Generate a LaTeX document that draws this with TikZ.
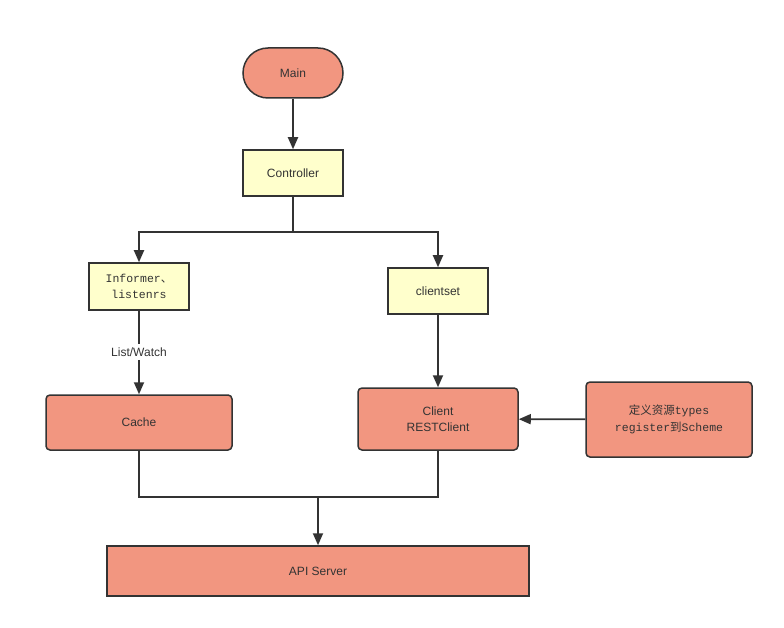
\documentclass[tikz,border=0pt]{standalone}
\usepackage{fontspec}
\usepackage{tikz}
\usepackage{xcolor}
\usetikzlibrary{arrows.meta}
\setmainfont{Liberation Sans}
\newfontfamily\cjk{Noto Sans CJK SC}
\newfontfamily\simmono{Liberation Mono}
\definecolor{salmon}{HTML}{F29680}
\definecolor{paleyellow}{HTML}{FFFFCC}
\definecolor{edgegray}{HTML}{333333}

\begin{document}
\begin{tikzpicture}[x=1pt,y=-1pt,
    font=\fontsize{12pt}{14pt}\selectfont,
    box/.style={draw=edgegray,line width=1.5pt,align=center,inner sep=0pt,text=edgegray},
    redbox/.style={box,fill=salmon,rounded corners=4pt},
    yellowbox/.style={box,fill=paleyellow},
    conn/.style={draw=edgegray,line width=1.8pt},
    arr/.style={conn,-{Triangle[length=12pt,width=10pt]}}]
            \useasboundingbox (0,0) rectangle (784,628);

            \node[redbox,rounded corners=25pt,minimum width=100pt,minimum height=50pt] (Main) at (293,73) {Main};
            \node[yellowbox,minimum width=100pt,minimum height=46pt] (Controller) at (293,173) {Controller};
            \node[yellowbox,minimum width=100pt,minimum height=47pt,font=\fontsize{11.5pt}{16pt}\simmono] (Informer) at (139,286.5) {Informer{\cjk 、}\\listenrs};
            \node[yellowbox,minimum width=100pt,minimum height=46pt] (Clientset) at (438,291) {clientset};
            \node[text=edgegray] (ListWatch) at (139,352) {List/Watch};
            \node[redbox,minimum width=186pt,minimum height=55pt] (Cache) at (139,422.5) {Cache};
            \node[redbox,minimum width=160pt,minimum height=62pt,font=\fontsize{12pt}{16pt}\selectfont] (Client) at (438,419) {Client\\RESTClient};
            \node[redbox,minimum width=166pt,minimum height=75pt,font=\fontsize{11.5pt}{17pt}\simmono] (Types) at (669,419.5) {{\cjk 定义资源}types\\register{\cjk 到}Scheme};
            \node[box,fill=salmon,minimum width=422pt,minimum height=50pt] (APIServer) at (318,571) {API Server};

            \coordinate (Split) at (293,232);
            \coordinate (Merge) at (318,497);

            \draw[arr] (Main) -- (Controller);
            \draw[conn] (Controller) -- (Split);
            \draw[arr] (Split) -| (Informer);
            \draw[arr] (Split) -| (Clientset);
            \draw[conn] (Informer) -- (ListWatch);
            \draw[arr] (ListWatch) -- (Cache);
            \draw[arr] (Clientset) -- (Client);
            \draw[arr] (Types) -- (Client);
            \draw[conn] (Cache) |- (Merge);
            \draw[conn] (Client) |- (Merge);
            \draw[arr] (Merge) -- (APIServer);
        \end{tikzpicture}
\end{document}
